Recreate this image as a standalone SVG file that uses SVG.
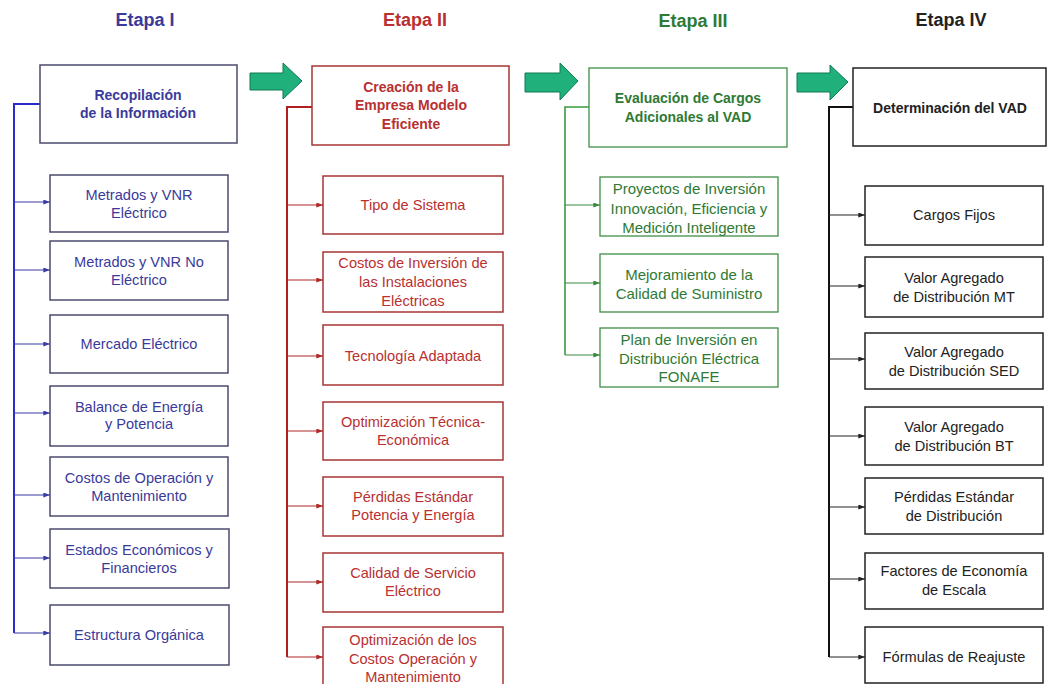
<svg xmlns="http://www.w3.org/2000/svg" width="1047" height="684" viewBox="0 0 1047 684">
<style>
text{font-family:"Liberation Sans",Arial,sans-serif;text-anchor:middle;dominant-baseline:central}
.h{font-size:18px;font-weight:bold}
.m{font-size:14px;font-weight:bold}
.c{font-size:14.6px}
.c3{font-size:15px}
.b1{fill:#fff;stroke:#4b4b6e;stroke-width:1.5}
.b2{fill:#fff;stroke:#a83535;stroke-width:1.5}
.b3{fill:#fff;stroke:#3f8f45;stroke-width:1.3}
.b4{fill:#fff;stroke:#222;stroke-width:1.5}
.t1{fill:#3a3a9a}.t2{fill:#b93030}.t3{fill:#2e7a34}.t4{fill:#222}
.s1{stroke:#2b2bcc;stroke-width:2;fill:none}
.s2{stroke:#b01e1e;stroke-width:2;fill:none}
.s3{stroke:#3a9a3f;stroke-width:1.6;fill:none}
.s4{stroke:#111;stroke-width:2;fill:none}
.a1{stroke:#3a3aa8;stroke-width:1.2;marker-end:url(#m1)}
.a2{stroke:#b02828;stroke-width:1.2;marker-end:url(#m2)}
.a3{stroke:#3a8a3f;stroke-width:1.2;marker-end:url(#m3)}
.a4{stroke:#222;stroke-width:1.2;marker-end:url(#m4)}
.ga{fill:#1fb07c;stroke:#137a52;stroke-width:1}
</style>
<defs>
<marker id="m1" viewBox="0 0 8 6" refX="8" refY="3" markerWidth="7" markerHeight="5" markerUnits="userSpaceOnUse" orient="auto"><path d="M0,0L8,3L0,6z" fill="#3a3aa8"/></marker>
<marker id="m2" viewBox="0 0 8 6" refX="8" refY="3" markerWidth="7" markerHeight="5" markerUnits="userSpaceOnUse" orient="auto"><path d="M0,0L8,3L0,6z" fill="#b02828"/></marker>
<marker id="m3" viewBox="0 0 8 6" refX="8" refY="3" markerWidth="7" markerHeight="5" markerUnits="userSpaceOnUse" orient="auto"><path d="M0,0L8,3L0,6z" fill="#3a8a3f"/></marker>
<marker id="m4" viewBox="0 0 8 6" refX="8" refY="3" markerWidth="7" markerHeight="5" markerUnits="userSpaceOnUse" orient="auto"><path d="M0,0L8,3L0,6z" fill="#222"/></marker>
</defs>
<rect width="1047" height="684" fill="#fff"/>

<!-- headings -->
<text class="h t1" x="145" y="20">Etapa I</text>
<text class="h t2" x="415" y="20">Etapa II</text>
<text class="h t3" x="693" y="21">Etapa III</text>
<text class="h t4" x="951" y="20">Etapa IV</text>

<!-- green stage arrows -->
<g id="stage-arrows">
<path class="ga" d="M250,73H283V63L302,81L283,99V90H250z"/>
<path class="ga" d="M525,73H560V63L578,81L560,100V92H525z"/>
<path class="ga" d="M797,73H830V65L848,82L830,100V92H797z"/>
</g>

<!-- connectors -->
<g id="connectors">
<path class="s1" d="M40,104H14V633"/>
<line class="a1" x1="14" y1="202" x2="50" y2="202"/>
<line class="a1" x1="14" y1="270" x2="50" y2="270"/>
<line class="a1" x1="14" y1="344" x2="50" y2="344"/>
<line class="a1" x1="14" y1="413" x2="50" y2="413"/>
<line class="a1" x1="14" y1="495" x2="50" y2="495"/>
<line class="a1" x1="14" y1="558" x2="50" y2="558"/>
<line class="a1" x1="14" y1="633" x2="50" y2="633"/>

<path class="s2" d="M312,107H287V657"/>
<line class="a2" x1="287" y1="205" x2="323" y2="205"/>
<line class="a2" x1="287" y1="280" x2="323" y2="280"/>
<line class="a2" x1="287" y1="356" x2="323" y2="356"/>
<line class="a2" x1="287" y1="431" x2="323" y2="431"/>
<line class="a2" x1="287" y1="506" x2="323" y2="506"/>
<line class="a2" x1="287" y1="582" x2="323" y2="582"/>
<line class="a2" x1="287" y1="657" x2="323" y2="657"/>

<path class="s3" d="M589,107H565V355"/>
<line class="a3" x1="565" y1="205" x2="600" y2="205"/>
<line class="a3" x1="565" y1="283" x2="600" y2="283"/>
<line class="a3" x1="565" y1="355" x2="600" y2="355"/>

<path class="s4" d="M853,107H829V657"/>
<line class="a4" x1="829" y1="215" x2="865" y2="215"/>
<line class="a4" x1="829" y1="286" x2="865" y2="286"/>
<line class="a4" x1="829" y1="359" x2="865" y2="359"/>
<line class="a4" x1="829" y1="436" x2="865" y2="436"/>
<line class="a4" x1="829" y1="507" x2="865" y2="507"/>
<line class="a4" x1="829" y1="579" x2="865" y2="579"/>
<line class="a4" x1="829" y1="657" x2="865" y2="657"/>
</g>

<!-- Etapa I -->
<g id="n1-main"><rect class="b1" x="40" y="65" width="197" height="78"/><text class="m t1" x="138" y="95">Recopilación</text><text class="m t1" x="138" y="113">de la Información</text></g>
<g id="n1-1"><rect class="b1" x="50" y="175" width="178" height="57"/><text class="c t1" x="139" y="195">Metrados y VNR</text><text class="c t1" x="139" y="213">Eléctrico</text></g>
<g id="n1-2"><rect class="b1" x="50" y="241" width="178" height="59"/><text class="c t1" x="139" y="262">Metrados y VNR  No</text><text class="c t1" x="139" y="280">Eléctrico</text></g>
<g id="n1-3"><rect class="b1" x="50" y="315" width="178" height="58"/><text class="c t1" x="139" y="344">Mercado Eléctrico</text></g>
<g id="n1-4"><rect class="b1" x="50" y="386" width="178" height="60"/><text class="c t1" x="139" y="407">Balance de Energía</text><text class="c t1" x="139" y="424">y Potencia</text></g>
<g id="n1-5"><rect class="b1" x="50" y="457" width="178" height="59"/><text class="c t1" x="139" y="478">Costos de Operación y</text><text class="c t1" x="139" y="496">Mantenimiento</text></g>
<g id="n1-6"><rect class="b1" x="50" y="529" width="179" height="59"/><text class="c t1" x="139" y="550">Estados Económicos y</text><text class="c t1" x="139" y="568">Financieros</text></g>
<g id="n1-7"><rect class="b1" x="50" y="605" width="179" height="60"/><text class="c t1" x="139" y="635">Estructura Orgánica</text></g>

<!-- Etapa II -->
<g id="n2-main"><rect class="b2" x="312" y="66" width="197" height="79"/><text class="m t2" x="411" y="87">Creación de la</text><text class="m t2" x="411" y="105">Empresa Modelo</text><text class="m t2" x="411" y="124">Eficiente</text></g>
<g id="n2-1"><rect class="b2" x="323" y="176" width="180" height="58"/><text class="c t2" x="413" y="205">Tipo de Sistema</text></g>
<g id="n2-2"><rect class="b2" x="323" y="252" width="180" height="60"/><text class="c t2" x="413" y="263">Costos de Inversión de</text><text class="c t2" x="413" y="282">las Instalaciones</text><text class="c t2" x="413" y="301">Eléctricas</text></g>
<g id="n2-3"><rect class="b2" x="323" y="325" width="180" height="60"/><text class="c t2" x="413" y="356">Tecnología Adaptada</text></g>
<g id="n2-4"><rect class="b2" x="323" y="402" width="180" height="58"/><text class="c t2" x="413" y="422">Optimización  Técnica-</text><text class="c t2" x="413" y="440">Económica</text></g>
<g id="n2-5"><rect class="b2" x="323" y="477" width="180" height="59"/><text class="c t2" x="413" y="497">Pérdidas Estándar</text><text class="c t2" x="413" y="515">Potencia y Energía</text></g>
<g id="n2-6"><rect class="b2" x="323" y="553" width="180" height="59"/><text class="c t2" x="413" y="573">Calidad de Servicio</text><text class="c t2" x="413" y="591">Eléctrico</text></g>
<g id="n2-7"><rect class="b2" x="323" y="627" width="180" height="62"/><text class="c t2" x="413" y="640">Optimización  de los</text><text class="c t2" x="413" y="659">Costos Operación y</text><text class="c t2" x="413" y="677">Mantenimiento</text></g>

<!-- Etapa III -->
<g id="n3-main"><rect class="b3" x="589" y="68" width="198" height="79"/><text class="m t3" x="688" y="98">Evaluación de Cargos</text><text class="m t3" x="688" y="117">Adicionales al VAD</text></g>
<g id="n3-1"><rect class="b3" x="600" y="177" width="178" height="59"/><text class="c3 t3" x="689" y="188">Proyectos de Inversión</text><text class="c3 t3" x="689" y="208">Innovación, Eficiencia y</text><text class="c3 t3" x="689" y="227">Medición Inteligente</text></g>
<g id="n3-2"><rect class="b3" x="600" y="254" width="178" height="58"/><text class="c3 t3" x="689" y="274">Mejoramiento de la</text><text class="c3 t3" x="689" y="293">Calidad de Suministro</text></g>
<g id="n3-3"><rect class="b3" x="600" y="328" width="178" height="59"/><text class="c3 t3" x="689" y="339">Plan de Inversión en</text><text class="c3 t3" x="689" y="358">Distribución Eléctrica</text><text class="c3 t3" x="689" y="376">FONAFE</text></g>

<!-- Etapa IV -->
<g id="n4-main"><rect class="b4" x="853" y="68" width="193" height="78"/><text class="m t4" x="950" y="108">Determinación del VAD</text></g>
<g id="n4-1"><rect class="b4" x="865" y="186" width="178" height="59"/><text class="c t4" x="954" y="215">Cargos Fijos</text></g>
<g id="n4-2"><rect class="b4" x="865" y="257" width="178" height="60"/><text class="c t4" x="954" y="278">Valor Agregado</text><text class="c t4" x="954" y="297">de Distribución MT</text></g>
<g id="n4-3"><rect class="b4" x="865" y="333" width="178" height="56"/><text class="c t4" x="954" y="352">Valor Agregado</text><text class="c t4" x="954" y="371">de Distribución SED</text></g>
<g id="n4-4"><rect class="b4" x="865" y="407" width="178" height="58"/><text class="c t4" x="954" y="427">Valor Agregado</text><text class="c t4" x="954" y="446">de Distribución BT</text></g>
<g id="n4-5"><rect class="b4" x="865" y="478" width="178" height="56"/><text class="c t4" x="954" y="497">Pérdidas Estándar</text><text class="c t4" x="954" y="516">de Distribución</text></g>
<g id="n4-6"><rect class="b4" x="865" y="553" width="178" height="56"/><text class="c t4" x="954" y="571">Factores de Economía</text><text class="c t4" x="954" y="590">de Escala</text></g>
<g id="n4-7"><rect class="b4" x="865" y="627" width="178" height="56"/><text class="c t4" x="954" y="657">Fórmulas de Reajuste</text></g>
</svg>
